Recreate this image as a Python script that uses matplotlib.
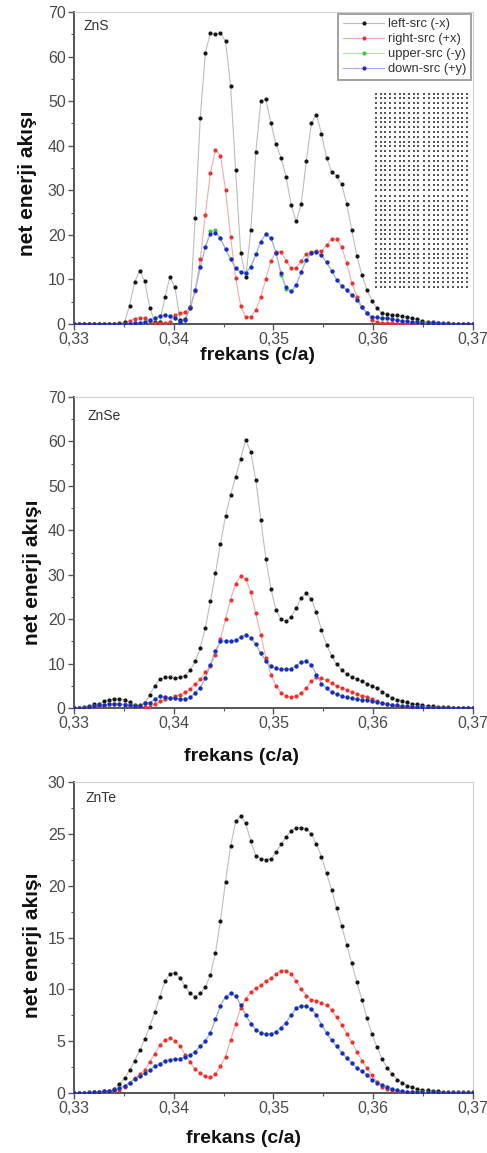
import numpy as np
import matplotlib
matplotlib.use("Agg")
import matplotlib.pyplot as plt
from matplotlib.ticker import FuncFormatter, MultipleLocator

plt.rcParams['font.family'] = ['Liberation Sans', 'DejaVu Sans']

# frequency grid (c/a), 80 samples
freq = np.linspace(0.33, 0.37, 80)

# ---------------- ZnS ----------------
zns_left = [0, 0, 0, 0, 0.05, 0.1, 0.1, 0.1, 0.1, 0.2,
            0.4, 4.1, 9.4, 12.0, 9.6, 3.7, 0.5, 0.4, 6.0, 10.5,
            8.2, 1.0, 1.2, 3.8, 23.8, 46.2, 60.8, 65.3, 65.1, 65.3,
            63.5, 53.5, 34.5, 16.0, 10.5, 21.0, 38.6, 50.0, 50.4, 45.0,
            40.3, 37.3, 33.0, 26.7, 23.0, 27.0, 36.5, 45.0, 47.0, 42.7,
            37.3, 34.2, 33.3, 31.3, 27.0, 21.0, 15.3, 11.0, 7.7, 5.2,
            3.5, 2.4, 2.2, 2.1, 2.0, 1.8, 1.6, 1.3, 1.1, 0.7,
            0.5, 0.4, 0.3, 0.2, 0.2, 0.1, 0.1, 0.1, 0.05, 0.05]
zns_right = [0, 0, 0, 0, 0, 0, 0, 0, 0, 0.05,
             0.1, 0.7, 1.2, 1.4, 1.4, 0.6, 0.2, 0.2, 0.2, 0.5,
             2.0, 2.4, 2.7, 3.8, 7.5, 14.5, 24.5, 33.8, 39.0, 37.8,
             30.1, 19.6, 10.3, 4.1, 1.6, 1.6, 3.1, 6.1, 10.2, 14.2,
             16.2, 16.2, 14.2, 12.5, 12.6, 14.2, 15.7, 16.2, 16.3, 16.3,
             17.7, 19.0, 19.1, 17.3, 13.6, 9.3, 6.1, 3.8, 2.4, 0.9,
             0.4, 0.3, 0.2, 0.2, 0.1, 0.1, 0.1, 0.05, 0.05, 0.05,
             0, 0, 0, 0, 0, 0, 0, 0, 0, 0]
zns_down = [0, 0, 0, 0, 0, 0, 0, 0.05, 0.1, 0.1,
            0.1, 0.1, 0.2, 0.3, 0.5, 1.0, 1.4, 1.8, 2.0, 1.8,
            1.4, 0.5, 1.0, 3.5, 7.6, 12.7, 17.3, 20.2, 20.5, 19.2,
            16.8, 14.5, 12.5, 11.6, 11.5, 12.8, 15.6, 18.5, 20.2, 19.3,
            16.0, 11.4, 8.2, 7.3, 8.8, 11.7, 14.4, 16.0, 16.2, 15.4,
            13.8, 12.0, 9.9, 8.5, 7.7, 6.5, 5.4, 3.8, 2.5, 1.6,
            1.5, 1.4, 1.3, 1.1, 0.9, 0.7, 0.6, 0.5, 0.4, 0.3,
            0.2, 0.2, 0.15, 0.1, 0.1, 0.1, 0.05, 0.05, 0.05, 0.05]
zns_upper = list(zns_down)
zns_upper[27] = 20.8
zns_upper[28] = 21.0
zns_upper[41] = 11.0
zns_upper[42] = 7.8

# ---------------- ZnSe ----------------
znse_left = [0, 0.1, 0.2, 0.5, 0.8, 1.0, 1.5, 1.9, 2.0, 2.0,
             1.9, 1.3, 0.7, 0.6, 1.1, 3.0, 5.0, 6.5, 6.9, 6.9,
             6.7, 6.9, 7.3, 8.5, 10.5, 13.5, 18.0, 24.0, 30.3, 36.9,
             43.2, 47.9, 52.0, 56.1, 60.4, 57.6, 51.3, 42.3, 33.5, 26.8,
             22.0, 20.0, 19.5, 20.5, 22.5, 24.8, 25.8, 24.5, 21.5, 17.6,
             14.2, 11.8, 9.8, 8.6, 7.6, 7.0, 6.5, 6.0, 5.5, 5.0,
             4.4, 3.7, 3.0, 2.3, 1.9, 1.6, 1.3, 1.0, 0.8, 0.6,
             0.5, 0.4, 0.3, 0.2, 0.2, 0.1, 0.1, 0.1, 0.1, 0.1]
znse_right = [0, 0, 0.05, 0.1, 0.2, 0.4, 0.6, 0.8, 0.9, 0.9,
              0.8, 0.6, 0.4, 0.2, 0.2, 0.3, 0.9, 1.5, 2.0, 2.2,
              2.6, 3.0, 3.5, 4.3, 5.3, 6.5, 8.0, 9.5, 12.0, 15.5,
              20.0, 24.4, 28.0, 29.6, 29.0, 26.1, 21.3, 16.4, 11.2, 7.5,
              5.0, 3.4, 2.7, 2.4, 2.6, 3.4, 4.5, 6.0, 7.0, 6.7,
              6.2, 5.6, 5.0, 4.5, 4.1, 3.6, 3.2, 2.8, 2.5, 2.0,
              1.5, 1.1, 0.8, 0.6, 0.4, 0.3, 0.2, 0.2, 0.1, 0.1,
              0.05, 0.05, 0.05, 0, 0, 0, 0, 0, 0, 0]
znse_down = [0, 0.05, 0.1, 0.2, 0.4, 0.6, 0.7, 0.9, 0.8, 0.9,
             0.7, 0.6, 0.5, 0.4, 1.2, 1.2, 2.0, 2.6, 2.4, 2.3,
             2.2, 2.0, 2.0, 2.4, 3.4, 4.6, 6.7, 9.7, 12.9, 15.0,
             15.1, 15.0, 15.2, 16.0, 16.4, 15.8, 14.3, 12.3, 10.5, 9.4,
             8.9, 8.7, 8.7, 8.8, 9.5, 10.3, 10.5, 9.7, 7.5, 5.5,
             4.4, 3.6, 3.1, 2.7, 2.4, 2.2, 2.0, 1.9, 1.7, 1.5,
             1.3, 1.1, 0.9, 0.7, 0.6, 0.5, 0.4, 0.3, 0.3, 0.2,
             0.1, 0.1, 0.1, 0.1, 0.05, 0.05, 0.05, 0.05, 0.05, 0.05]
znse_upper = list(znse_down)

# ---------------- ZnTe ----------------
znte_left = [0, 0, 0.02, 0.05, 0.1, 0.1, 0.15, 0.2, 0.4, 0.9,
             1.4, 2.2, 3.1, 4.1, 5.2, 6.4, 7.8, 9.3, 10.8, 11.5,
             11.6, 11.1, 10.3, 9.6, 9.3, 9.6, 10.2, 11.4, 13.5, 16.6,
             20.4, 23.8, 26.2, 26.7, 26.0, 24.3, 22.9, 22.6, 22.5, 22.6,
             23.2, 24.0, 24.7, 25.3, 25.6, 25.6, 25.5, 25.0, 24.0, 22.8,
             21.2, 19.6, 17.8, 16.1, 14.3, 12.5, 10.7, 9.0, 7.2, 5.7,
             4.4, 3.3, 2.4, 1.8, 1.3, 1.0, 0.7, 0.55, 0.4, 0.3,
             0.25, 0.2, 0.15, 0.1, 0.1, 0.05, 0.05, 0.05, 0.05, 0.05]
znte_right = [0, 0, 0, 0, 0.02, 0.05, 0.1, 0.15, 0.2, 0.3,
              0.6, 1.0, 1.4, 1.8, 2.2, 3.0, 3.8, 4.6, 5.1, 5.3,
              5.0, 4.5, 3.7, 3.0, 2.3, 1.9, 1.6, 1.5, 1.8, 2.6,
              3.5, 5.1, 6.7, 8.2, 9.1, 9.7, 10.1, 10.4, 10.8, 11.1,
              11.5, 11.8, 11.8, 11.5, 10.8, 10.0, 9.4, 9.0, 8.9, 8.7,
              8.5, 8.0, 7.3, 6.6, 5.7, 4.9, 4.0, 3.1, 2.4, 1.7,
              1.1, 0.6, 0.4, 0.25, 0.15, 0.1, 0.1, 0.05, 0.05, 0.05,
              0, 0, 0, 0, 0, 0, 0, 0, 0, 0]
znte_down = [0, 0, 0, 0.02, 0.05, 0.1, 0.15, 0.2, 0.3, 0.5,
             0.7, 1.0, 1.35, 1.6, 1.9, 2.2, 2.6, 2.8, 3.1, 3.2,
             3.3, 3.3, 3.5, 3.7, 4.0, 4.5, 5.0, 5.8, 7.1, 8.4,
             9.3, 9.6, 9.4, 8.5, 7.5, 6.7, 6.1, 5.8, 5.7, 5.7,
             5.9, 6.3, 6.8, 7.5, 8.2, 8.4, 8.4, 8.1, 7.5, 6.6,
             5.8, 5.1, 4.5, 3.9, 3.4, 2.9, 2.4, 2.1, 1.7, 1.3,
             1.0, 0.8, 0.6, 0.4, 0.3, 0.2, 0.1, 0.1, 0.1, 0.05,
             0.05, 0.05, 0, 0, 0, 0, 0, 0, 0, 0]
znte_upper = list(znte_down)

materials = ["ZnS", "ZnSe", "ZnTe"]
series_labels = ["left-src (-x)", "right-src (+x)", "upper-src (-y)", "down-src (+y)"]
panel_data = [
    [zns_left, zns_right, zns_upper, zns_down],
    [znse_left, znse_right, znse_upper, znse_down],
    [znte_left, znte_right, znte_upper, znte_down],
]
y_max = [70, 70, 30]
y_major = [10, 10, 5]
x_ticks = [0.33, 0.34, 0.35, 0.36, 0.37]

marker_colors = ["#161616", "#e8332c", "#2fcf3a", "#2424cc"]
line_colors = ["#bdbdbd", "#f3a9a9", "#a8e8ad", "#a9a9ee"]

W, H = 487, 1153
fig = plt.figure(figsize=(W / 100, H / 100), dpi=100)

# axes boxes in pixels: (left, top, right, bottom)
boxes = [(74, 12, 473, 324), (74, 397, 473, 708), (74, 782, 473, 1093)]
# label placement per panel (axes fractions)
xlabel_pos = [(0.459, -0.075), (0.419, -0.128), (0.424, -0.118)]
ylabel_pos = [(-0.093, 0.45), (-0.080, 0.437), (-0.080, 0.474)]
name_pos = [(0.025, 0.978), (0.035, 0.962), (0.028, 0.972)]


def comma_fmt(v, pos):
    s = f"{v:.2f}" if abs(v) < 1 else f"{v:g}"
    return s.replace(".", ",")


for i, (l, t, r, b) in enumerate(boxes):
    ax = fig.add_axes([l / W, 1 - b / H, (r - l) / W, (b - t) / H])
    for j, vals in enumerate(panel_data[i]):
        ax.plot(freq, vals, '-', color=line_colors[j], lw=0.8, zorder=2 + j * 0.1)
        ax.plot(freq, vals, 'o', color=marker_colors[j], ms=3.0, mec='none',
                zorder=3 + j * 0.1, label=series_labels[j])
    ax.set_xlim(0.33, 0.37)
    ax.set_ylim(0, y_max[i])
    ax.set_xticks(x_ticks)
    ax.xaxis.set_major_formatter(FuncFormatter(comma_fmt))
    ax.xaxis.set_minor_locator(MultipleLocator(0.005))
    ax.yaxis.set_major_locator(MultipleLocator(y_major[i]))
    ax.yaxis.set_minor_locator(MultipleLocator(y_major[i] / 2))
    ax.yaxis.set_major_formatter(FuncFormatter(lambda v, p: f"{v:g}"))
    ax.tick_params(axis='both', which='major', direction='out', length=4.5, width=1.0,
                   color='#555555', labelsize=11.5, labelcolor='#4a4a4a', pad=1.5)
    ax.tick_params(axis='x', which='major', pad=1.0)
    ax.tick_params(axis='both', which='minor', direction='out', length=2.5, width=0.8,
                   color='#555555')
    ax.tick_params(top=False, right=False, which='both')
    for side in ['left', 'bottom']:
        ax.spines[side].set_color('#555555')
        ax.spines[side].set_linewidth(1.4)
    for side in ['top', 'right']:
        ax.spines[side].set_color('#d0d0d0')
        ax.spines[side].set_linewidth(0.8)
    ax.set_xlabel("frekans (c/a)", fontsize=14, fontweight='bold', color='#111111',
                  va='top')
    ax.xaxis.set_label_coords(*xlabel_pos[i])
    ax.set_ylabel("net enerji akışı", fontsize=15, fontweight='bold', color='#111111')
    ax.yaxis.set_label_coords(*ylabel_pos[i])
    ax.text(name_pos[i][0], name_pos[i][1], materials[i], transform=ax.transAxes,
            fontsize=10, color='#333333', va='top', ha='left')

    if i == 0:
        leg = ax.legend(loc='upper right', fontsize=9.3, frameon=True, fancybox=False,
                        edgecolor='#8a8a8a', borderaxespad=0.15, handlelength=3.2,
                        handletextpad=0.3, labelspacing=0.22, borderpad=0.35)
        leg.get_frame().set_linewidth(1.4)
        for txt in leg.get_texts():
            txt.set_color('#333333')
        for h, lc, mc in zip(leg.legend_handles, line_colors, marker_colors):
            h.set_linestyle('-')
            h.set_color(lc)
            h.set_linewidth(0.8)
            h.set_markerfacecolor(mc)
            h.set_markeredgecolor('none')

        # photonic crystal lattice sketch
        ins = fig.add_axes([374 / W, 1 - 289 / H, 98 / W, 197 / H])
        ins.set_xlim(0, 98)
        ins.set_ylim(197, 0)
        ins.axis('off')
        cols_a = np.arange(10) * 4.7 + 2.0
        cols_b = np.arange(10) * 4.8 + 50.0
        rows_a = np.arange(21) * 4.8 + 1.5
        rows_b = np.arange(20) * 4.8 + 104.0
        for cx in (cols_a, cols_b):
            for ry in (rows_a, rows_b):
                gx, gy = np.meshgrid(cx, ry)
                ins.scatter(gx.ravel(), gy.ravel(), s=1.2, c='#555555', marker='s',
                            linewidths=0)

fig.savefig("out.png", dpi=100)
